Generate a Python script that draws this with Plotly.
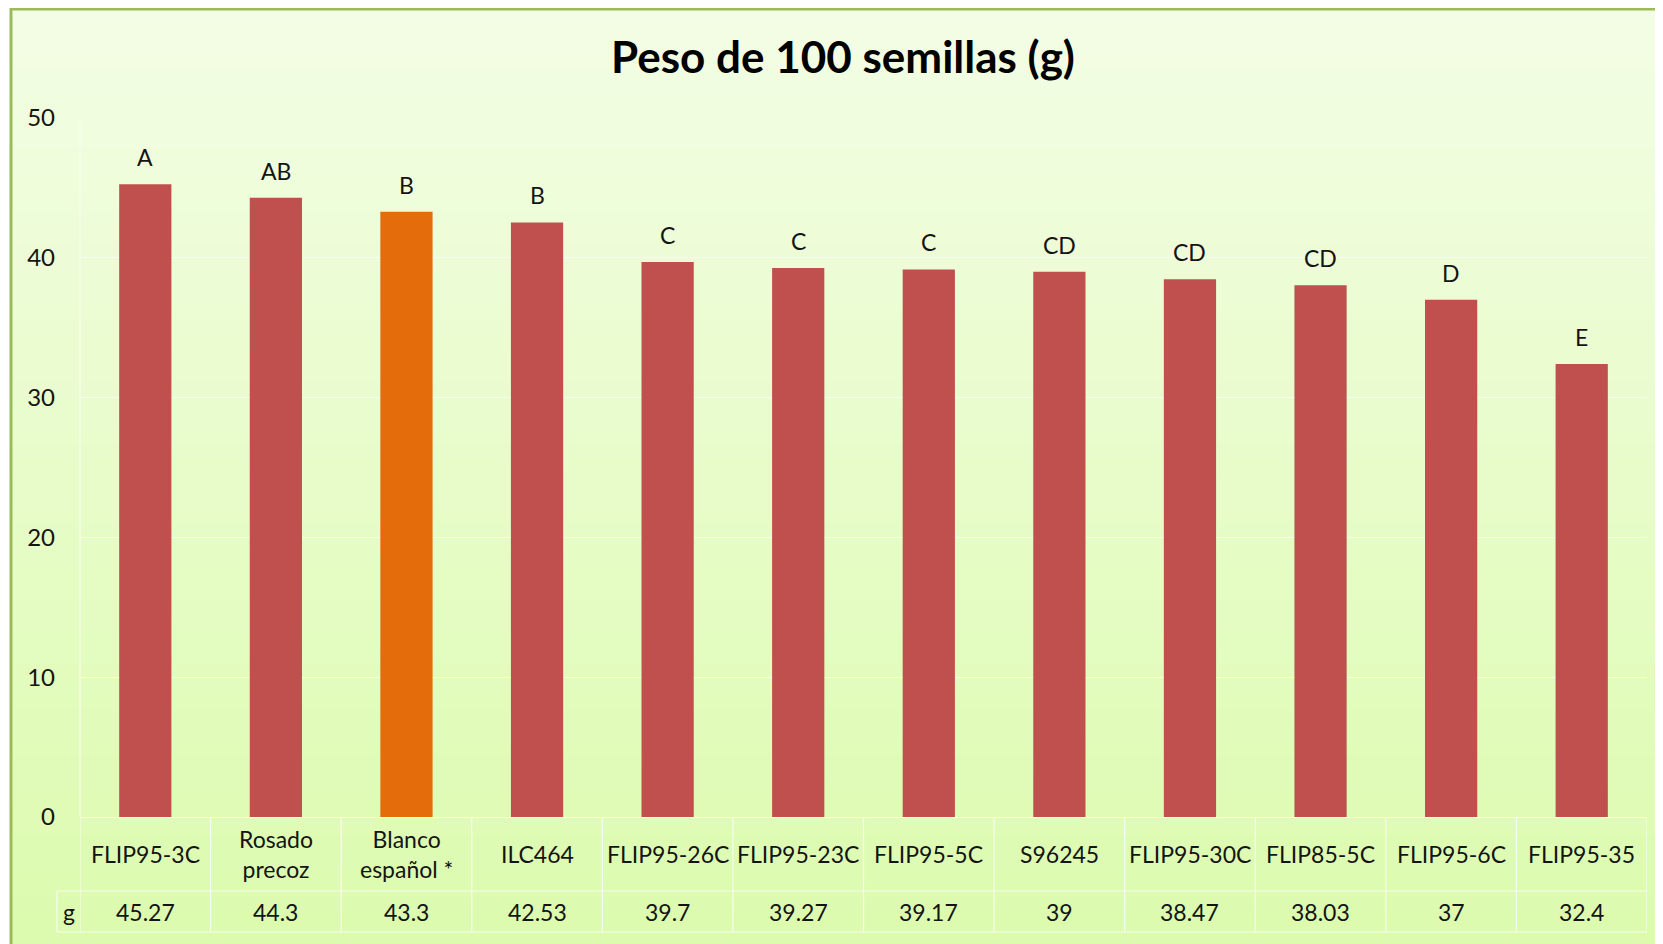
import plotly.graph_objects as go

categories = ["FLIP95-3C", "Rosado<br>precoz", "Blanco<br>español *", "ILC464", "FLIP95-26C",
              "FLIP95-23C", "FLIP95-5C", "S96245", "FLIP95-30C", "FLIP85-5C", "FLIP95-6C", "FLIP95-35"]
values = [45.27, 44.3, 43.3, 42.53, 39.7, 39.27, 39.17, 39, 38.47, 38.03, 37, 32.4]
value_text = ["45.27", "44.3", "43.3", "42.53", "39.7", "39.27", "39.17", "39", "38.47", "38.03", "37", "32.4"]
groups = ["A", "AB", "B", "B", "C", "C", "C", "CD", "CD", "CD", "D", "E"]
highlight = "Blanco<br>español *"
row_label = "g"

OFF = 8  # page body margin
W, H = 1663 - OFF, 944 - OFF
ML, MR, MT, MB = 80 - OFF, 16, 118 - OFF, 127
plot_h = H - MT - MB
plot_w = W - ML - MR
cat_w = plot_w / len(categories)

def py(p):  # page pixel y -> paper y
    return (H - MB - (p - OFF)) / plot_h

def px(p):  # page pixel x -> paper x
    return ((p - OFF) - ML) / plot_w

RED = "#C0504D"
ORANGE = "#E46C0A"
TXT = "#141414"
FONT = "Lato"
LINE = "#F7FDEE"
FS = 23

xidx = list(range(len(categories)))
colors = [ORANGE if c == highlight else RED for c in categories]

fig = go.Figure()
fig.add_trace(go.Bar(x=xidx, y=values, marker=dict(color=colors, line=dict(width=0)),
                     width=0.4, hoverinfo="x+y"))

shapes = []
# gradient background
n = 60
top_c = (243, 253, 229)
bot_c = (220, 251, 174)
y0p = 7
for i in range(n):
    t = i / (n - 1)
    c = tuple(int(round(top_c[k] + (bot_c[k] - top_c[k]) * t)) for k in range(3))
    a = y0p + (944 - y0p) * i / n
    b = y0p + (944 - y0p) * (i + 1) / n + 1
    shapes.append(dict(type="rect", xref="paper", yref="paper", layer="below",
                       x0=px(11), x1=px(1700), y0=py(b), y1=py(a),
                       fillcolor="rgb(%d,%d,%d)" % c, line=dict(width=0)))
# border
shapes.append(dict(type="line", xref="paper", yref="paper", layer="above",
                   x0=px(11), x1=px(11), y0=py(1000), y1=py(6), line=dict(color="#9BBB59", width=3)))
shapes.append(dict(type="line", xref="paper", yref="paper", layer="above",
                   x0=px(10), x1=px(1700), y0=py(9), y1=py(9), line=dict(color="#9BBB59", width=3)))

# table lines
r1, r2, r3 = 817, 891, 932
gxp = px(57)
for y in (r2, r3):
    shapes.append(dict(type="line", xref="paper", yref="paper", x0=gxp, x1=1,
                       y0=py(y), y1=py(y), line=dict(color=LINE, width=1.2)))
shapes.append(dict(type="line", xref="paper", yref="paper", x0=gxp, x1=gxp,
                   y0=py(r2), y1=py(r3), line=dict(color=LINE, width=1.2)))
for i in range(len(categories) + 1):
    shapes.append(dict(type="line", xref="x", yref="paper", x0=i - 0.5, x1=i - 0.5,
                       y0=py(r1), y1=py(r3), line=dict(color=LINE, width=1.2)))
# y axis line
shapes.append(dict(type="line", xref="paper", yref="paper", x0=0, x1=0,
                   y0=0, y1=1, line=dict(color=LINE, width=1.2)))

annotations = []
for i, c in enumerate(categories):
    annotations.append(dict(x=i, y=py((r1 + r2) / 2), xref="x", yref="paper", text=c,
                            showarrow=False, yanchor="middle", xanchor="center",
                            font=dict(family=FONT, size=FS, color=TXT)))
    annotations.append(dict(x=i, y=py((r2 + r3) / 2), xref="x", yref="paper", text=value_text[i],
                            showarrow=False, yanchor="middle", xanchor="center",
                            font=dict(family=FONT, size=FS, color=TXT)))
    annotations.append(dict(x=i, y=values[i], xref="x", yref="y", text=groups[i],
                            showarrow=False, yanchor="bottom", xanchor="center", yshift=11,
                            font=dict(family=FONT, size=FS, color=TXT)))
annotations.append(dict(x=(gxp + 0) / 2, y=py((r2 + r3) / 2), xref="paper", yref="paper", text=row_label,
                        showarrow=False, yanchor="middle", xanchor="center",
                        font=dict(family=FONT, size=FS, color=TXT)))

fig.update_layout(
    width=W, height=H,
    margin=dict(l=ML, r=MR, t=MT, b=MB, pad=0),
    paper_bgcolor="white",
    plot_bgcolor="rgba(0,0,0,0)",
    showlegend=False,
    title=dict(text="<b>Peso de 100 semillas (g)</b>", x=(843 - OFF) / W, xanchor="center",
               y=1 - (58 - OFF) / H, yanchor="middle", yref="container",
               font=dict(family=FONT, size=44, color="#000")),
    xaxis=dict(range=[-0.5, len(categories) - 0.5], showticklabels=False, showgrid=False,
               zeroline=False, showline=False, ticks=""),
    yaxis=dict(range=[0, 50], tickvals=[0, 10, 20, 30, 40, 50], showgrid=True, gridcolor=LINE,
               gridwidth=1.2, zeroline=True, zerolinecolor=LINE, zerolinewidth=1.2,
               showline=False, ticks="", ticklabelstandoff=24,
               tickfont=dict(family=FONT, size=24, color=TXT)),
    shapes=shapes,
    annotations=annotations,
    bargap=0.6,
)

fig.write_html("out.html")
